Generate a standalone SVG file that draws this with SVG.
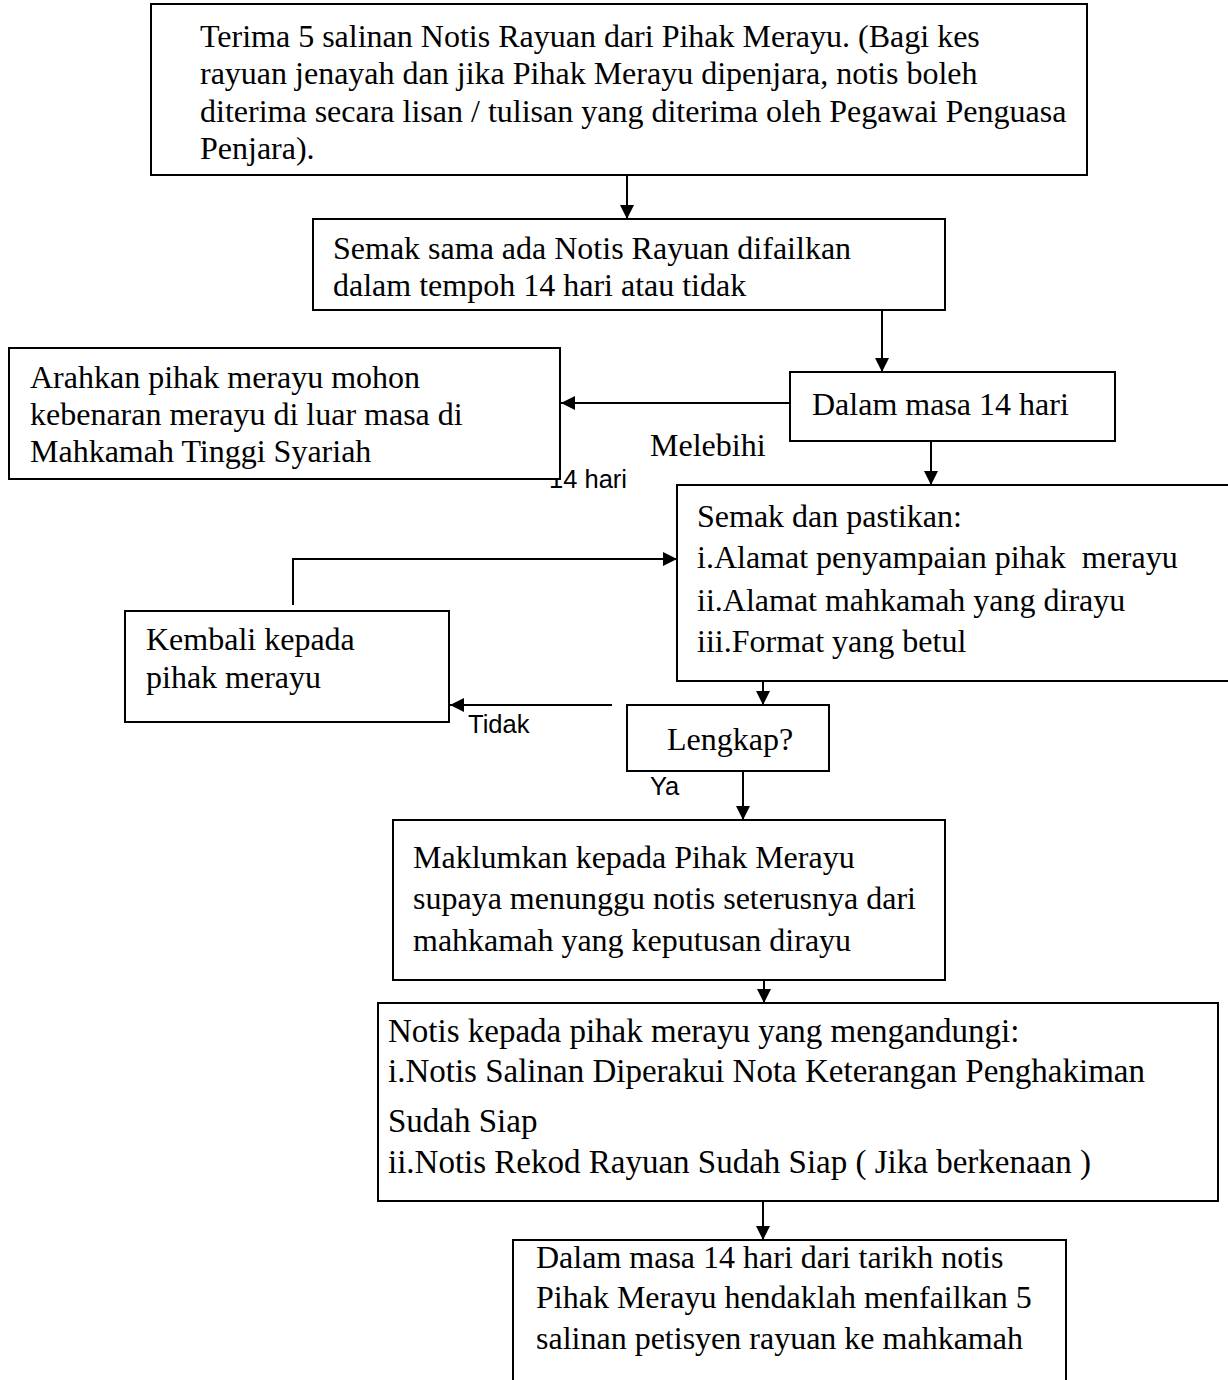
<svg xmlns="http://www.w3.org/2000/svg" width="1228" height="1380" viewBox="0 0 1228 1380">
<style>
.box{fill:#fff;stroke:#000;stroke-width:2}
.t{font-family:"Liberation Serif","Times New Roman",serif;font-size:32px;fill:#000}
.t2{font-family:"Liberation Serif","Times New Roman",serif;font-size:33px;fill:#000}
.s{font-family:"Liberation Sans",Arial,sans-serif;font-size:25.5px;fill:#000}
.c{fill:none;stroke:#000;stroke-width:2}
</style>
<defs>
<marker id="ah" viewBox="0 0 10 10" refX="10" refY="5" markerWidth="15" markerHeight="14" markerUnits="userSpaceOnUse" orient="auto">
<path d="M0,0 L10,5 L0,10 z" fill="#000"/>
</marker>
</defs>
<rect width="1228" height="1380" fill="#fff"/>
<text class="s" x="549" y="488">14 hari</text>
<g id="n1"><rect class="box" x="151" y="4" width="936" height="171"/>
<text class="t" x="200" y="47">Terima 5 salinan Notis Rayuan dari Pihak Merayu. (Bagi kes</text>
<text class="t" x="200" y="84">rayuan jenayah dan jika Pihak Merayu dipenjara, notis boleh</text>
<text class="t" x="200" y="122">diterima secara lisan / tulisan yang diterima oleh Pegawai Penguasa</text>
<text class="t" x="200" y="159">Penjara).</text></g>
<g id="n2"><rect class="box" x="313" y="219" width="632" height="91"/>
<text class="t" x="333" y="259">Semak sama ada Notis Rayuan difailkan</text>
<text class="t" x="333" y="296">dalam tempoh 14 hari atau tidak</text></g>
<g id="n3"><rect class="box" x="9" y="348" width="551" height="131"/>
<text class="t" x="30" y="388">Arahkan pihak merayu mohon</text>
<text class="t" x="30" y="425">kebenaran merayu di luar masa di</text>
<text class="t" x="30" y="462">Mahkamah Tinggi Syariah</text></g>
<g id="n4"><rect class="box" x="790" y="372" width="325" height="69"/>
<text class="t" x="812" y="415">Dalam masa 14 hari</text></g>
<g id="n5"><rect class="box" x="677" y="485" width="560" height="196"/>
<text class="t" x="697" y="527">Semak dan pastikan:</text>
<text class="t" x="697" y="568" xml:space="preserve">i.Alamat penyampaian pihak  merayu</text>
<text class="t" x="697" y="611">ii.Alamat mahkamah yang dirayu</text>
<text class="t" x="697" y="652">iii.Format yang betul</text></g>
<g id="n6"><rect class="box" x="125" y="611" width="324" height="111"/>
<text class="t" x="146" y="650">Kembali kepada</text>
<text class="t" x="146" y="688">pihak merayu</text></g>
<g id="n7"><rect class="box" x="627" y="705" width="202" height="66"/>
<text class="t" x="667" y="750">Lengkap?</text></g>
<g id="n8"><rect class="box" x="393" y="820" width="552" height="160"/>
<text class="t" x="413" y="868">Maklumkan kepada Pihak Merayu</text>
<text class="t" x="413" y="909">supaya menunggu notis seterusnya dari</text>
<text class="t" x="413" y="951">mahkamah yang keputusan dirayu</text></g>
<g id="n9"><rect class="box" x="378" y="1003" width="840" height="198"/>
<text class="t2" x="388" y="1042">Notis kepada pihak merayu yang mengandungi:</text>
<text class="t2" x="388" y="1082">i.Notis Salinan Diperakui Nota Keterangan Penghakiman</text>
<text class="t2" x="388" y="1132">Sudah Siap</text>
<text class="t2" x="388" y="1173">ii.Notis Rekod Rayuan Sudah Siap ( Jika berkenaan )</text></g>
<g id="n10"><rect class="box" x="513" y="1240" width="553" height="160"/>
<text class="t" x="536" y="1268">Dalam masa 14 hari dari tarikh notis</text>
<text class="t" x="536" y="1308">Pihak Merayu hendaklah menfailkan 5</text>
<text class="t" x="536" y="1349">salinan petisyen rayuan ke mahkamah</text></g>
<g id="connectors">
<line class="c" x1="627" y1="175" x2="627" y2="219" marker-end="url(#ah)"/>
<line class="c" x1="882" y1="310" x2="882" y2="372" marker-end="url(#ah)"/>
<line class="c" x1="790" y1="403" x2="561" y2="403" marker-end="url(#ah)"/>
<line class="c" x1="931" y1="441" x2="931" y2="485" marker-end="url(#ah)"/>
<polyline class="c" points="293,605 293,559 677,559" marker-end="url(#ah)"/>
<line class="c" x1="763" y1="681" x2="763" y2="705" marker-end="url(#ah)"/>
<line class="c" x1="612" y1="705" x2="450" y2="705" marker-end="url(#ah)"/>
<line class="c" x1="743" y1="771" x2="743" y2="820" marker-end="url(#ah)"/>
<line class="c" x1="764" y1="980" x2="764" y2="1003" marker-end="url(#ah)"/>
<line class="c" x1="763" y1="1201" x2="763" y2="1240" marker-end="url(#ah)"/>
</g>
<text class="t" x="650" y="456">Melebihi</text>
<text class="s" x="468" y="733">Tidak</text>
<text class="s" x="650" y="795">Ya</text>
</svg>
